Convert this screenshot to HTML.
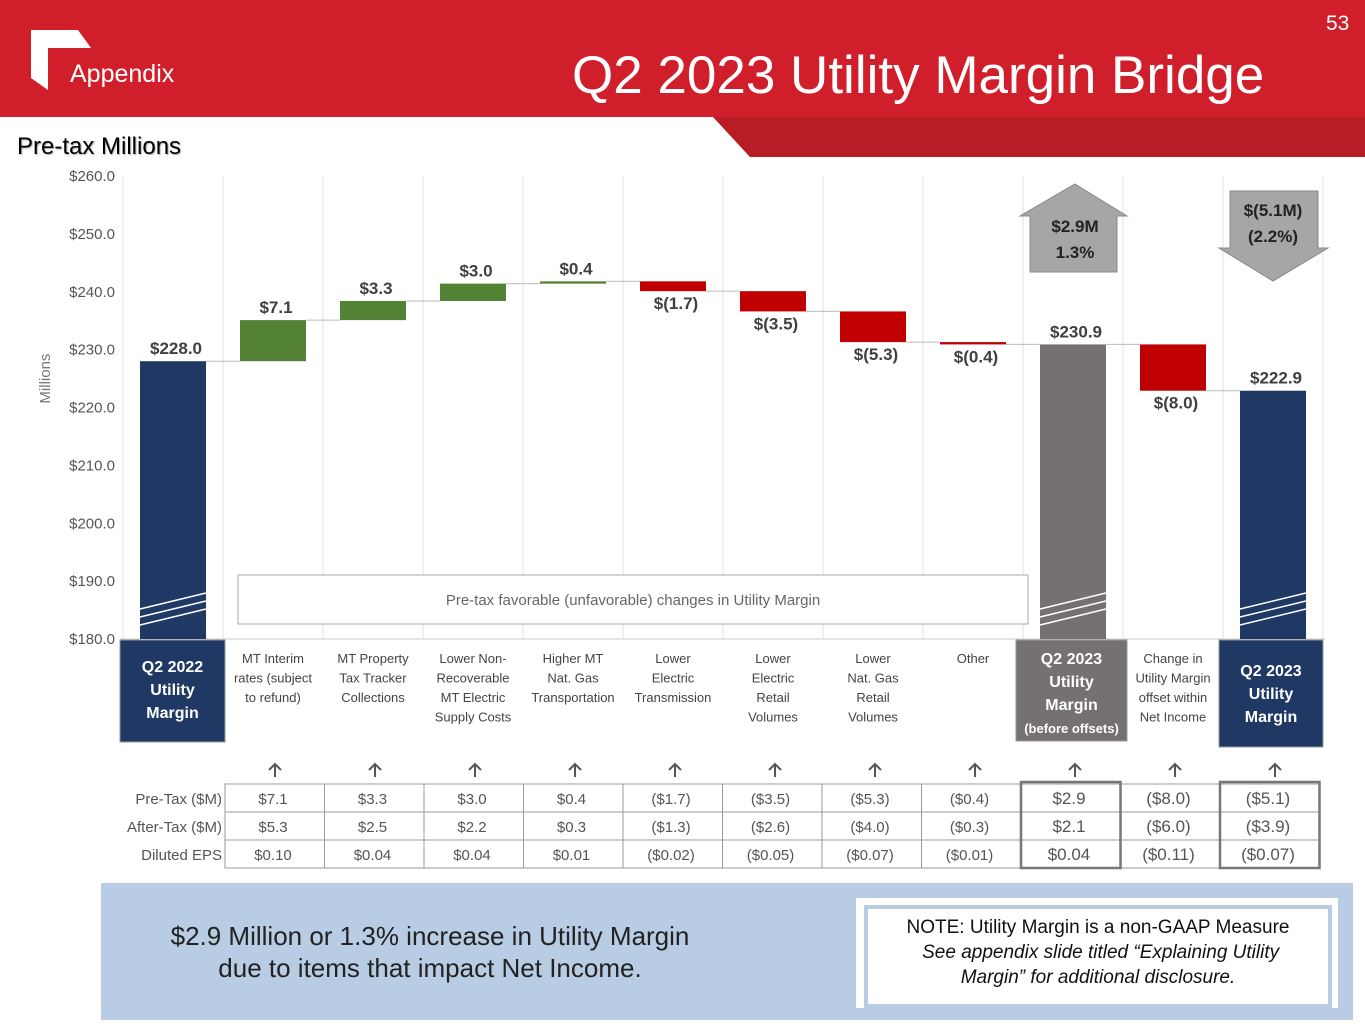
<!DOCTYPE html>
<html><head><meta charset="utf-8"><style>
body{margin:0;width:1365px;height:1024px;overflow:hidden;background:#fff;font-family:"Liberation Sans",sans-serif;position:relative}
.abs{position:absolute}
</style></head><body>
<div class="abs" style="left:0;top:0;width:1365px;height:117px;background:#d01f2a"></div>
<svg class="abs" style="left:0;top:0" width="1365" height="160">
<polygon points="713,117 1365,117 1365,157 750,157" fill="#b81c24"/>
<polygon points="31,30 78,30 91,48 48,48 48,90 31,78" fill="#fff"/>
</svg>
<div class="abs" style="left:70px;top:60px;color:#fff;font-size:25px">Appendix</div>
<div class="abs" style="left:572px;top:45px;color:#fff;font-size:53px">Q2 2023 Utility Margin Bridge</div>
<div class="abs" style="left:1326px;top:12px;color:#fff;font-size:21px">53</div>
<div class="abs" style="left:17px;top:133px;color:#000;font-size:24px;text-shadow:1px 1px 1px #aaa">Pre-tax Millions</div>

<svg id="chart" class="abs" style="left:0;top:160px" width="1365" height="720"></svg>

<div class="abs" style="left:101px;top:883px;width:1252px;height:137px;background:#b8cce4"></div>
<div class="abs" style="left:130px;top:920px;width:600px;text-align:center;font-size:26px;color:#222;line-height:32px">$2.9 Million or 1.3% increase in Utility Margin<br>due to items that impact Net Income.</div>
<div class="abs" style="left:856px;top:898px;width:482px;height:110px;background:#fff"></div>
<div class="abs" style="left:864px;top:905px;width:460px;height:89px;border:4px solid #b8cce4;text-align:center;font-size:19px;color:#111;line-height:25px;padding-top:6px">NOTE: Utility Margin is a non-GAAP Measure<br><i>&nbsp;See appendix slide titled “Explaining Utility<br>Margin” for additional disclosure.</i></div>

<script>
const categories=["Q2 2022 Utility Margin","MT Interim rates (subject to refund)","MT Property Tax Tracker Collections","Lower Non-Recoverable MT Electric Supply Costs","Higher MT Nat. Gas Transportation","Lower Electric Transmission","Lower Electric Retail Volumes","Lower Nat. Gas Retail Volumes","Other","Q2 2023 Utility Margin (before offsets)","Change in Utility Margin offset within Net Income","Q2 2023 Utility Margin"];
const values=[228.0,7.1,3.3,3.0,0.4,-1.7,-3.5,-5.3,-0.4,null,-8.0,null];
const barTypes=["total","delta","delta","delta","delta","delta","delta","delta","delta","subtotal","delta","total"];
const barLabels=["$228.0","$7.1","$3.3","$3.0","$0.4","$(1.7)","$(3.5)","$(5.3)","$(0.4)","$230.9","$(8.0)","$222.9"];
const yTicks=[180,190,200,210,220,230,240,250,260];
const preTax=["$7.1","$3.3","$3.0","$0.4","($1.7)","($3.5)","($5.3)","($0.4)","$2.9","($8.0)","($5.1)"];
const afterTax=["$5.3","$2.5","$2.2","$0.3","($1.3)","($2.6)","($4.0)","($0.3)","$2.1","($6.0)","($3.9)"];
const eps=["$0.10","$0.04","$0.04","$0.01","($0.02)","($0.05)","($0.07)","($0.01)","$0.04","($0.11)","($0.07)"];
const xLabels=[null,["MT Interim","rates (subject","to refund)"],["MT Property","Tax Tracker","Collections"],["Lower Non-","Recoverable","MT Electric","Supply Costs"],["Higher MT","Nat. Gas","Transportation"],["Lower","Electric","Transmission"],["Lower","Electric","Retail","Volumes"],["Lower","Nat. Gas","Retail","Volumes"],["Other"],null,["Change in","Utility Margin","offset within","Net Income"],null];

const svg=document.getElementById('chart');const NS='http://www.w3.org/2000/svg';
const OY=160;
const y=v=>639-OY-(v-180)*(463/80);
const xc=i=>173+i*100;
function mk(t,a,txt){const e=document.createElementNS(NS,t);for(const k in a)e.setAttribute(k,a[k]);if(txt!=null)e.textContent=txt;svg.appendChild(e);return e;}
const F='"Liberation Sans",sans-serif';
for(let i=0;i<=12;i++){const g=mk('line',{x1:123+i*100,x2:123+i*100,y1:y(260),y2:y(180),stroke:'#e2e2e2'});
}
yTicks.forEach(t=>{const e=mk('text',{x:115,y:y(t)+5,'text-anchor':'end','font-size':15,fill:'#555','font-family':F},'$'+t.toFixed(1));
});
const yt=mk('text',{x:50,y:y(225),transform:`rotate(-90 50 ${y(225)})`,'text-anchor':'middle','font-size':15,fill:'#777','font-family':F},'Millions');

mk('line',{x1:120,x2:1325,y1:y(180),y2:y(180),stroke:'#ccc'});
let run=0;
barTypes.forEach((tp,i)=>{let lo,hi,col;
 if(tp==='total'&&i===0){run=values[0];lo=180;hi=run;col='#1f3864';}
 else if(tp==='total'){lo=180;hi=run;col='#1f3864';}
 else if(tp==='subtotal'){lo=180;hi=run;col='#767171';}
 else{const v=values[i];lo=Math.min(run,run+v);hi=Math.max(run,run+v);col=v>=0?'#548235':'#c00000';run+=v;}
 const r=mk('rect',{x:xc(i)-33,y:y(hi),width:66,height:Math.max(1.5,y(lo)-y(hi)),fill:col});
 
 if(tp!=='delta'){for(let k=0;k<3;k++)mk('line',{x1:xc(i)-33,y1:y(180)-14-k*8,x2:xc(i)+33,y2:y(180)-30-k*8,stroke:'#fff','stroke-width':1.5});}
 const neg=tp==='delta'&&values[i]<0;
 const ly=neg?y(lo)+18:y(hi)-7;
 const l=mk('text',{x:xc(i)+3,y:ly,'text-anchor':'middle','font-size':17,'font-weight':'bold',fill:'#404040','font-family':F},barLabels[i]);
 
 if(i<11){mk('line',{x1:xc(i)+33,x2:xc(i+1)-33,y1:y(run),y2:y(run),stroke:'#bbb'});}
});
const ab=mk('rect',{x:238,y:575-OY,width:790,height:49,fill:'#fff',stroke:'#aaa'});

mk('text',{x:633,y:605-OY,'text-anchor':'middle','font-size':15,fill:'#666','font-family':F},'Pre-tax favorable (unfavorable) changes in Utility Margin');
const up=mk('polygon',{points:`1075,${184-OY} 1127,${216-OY} 1117,${216-OY} 1117,${272-OY} 1030,${272-OY} 1030,${216-OY} 1020,${216-OY}`,fill:'#a6a6a6',stroke:'#888'});

mk('text',{x:1075,y:232-OY,'text-anchor':'middle','font-size':17,'font-weight':'bold',fill:'#222','font-family':F},'$2.9M');
mk('text',{x:1075,y:258-OY,'text-anchor':'middle','font-size':17,'font-weight':'bold',fill:'#222','font-family':F},'1.3%');
const dn=mk('polygon',{points:`1230,${191-OY} 1318,${191-OY} 1318,${248-OY} 1328,${248-OY} 1273,${281-OY} 1219,${248-OY} 1230,${248-OY}`,fill:'#a6a6a6',stroke:'#888'});

mk('text',{x:1273,y:216-OY,'text-anchor':'middle','font-size':17,'font-weight':'bold',fill:'#222','font-family':F},'$(5.1M)');
mk('text',{x:1273,y:242-OY,'text-anchor':'middle','font-size':17,'font-weight':'bold',fill:'#222','font-family':F},'(2.2%)');
function box(x,w,yb,h,col,lines){const b=mk('rect',{x:x,y:640-OY,width:w,height:h,fill:col,stroke:'#999'});
 
 lines.forEach((t,k)=>mk('text',{x:x+w/2,y:yb-OY+k*23,'text-anchor':'middle','font-size':k===3?13:16,'font-weight':'bold',fill:'#fff','font-family':F},t));}
box(120,105,672,102,'#1f3864',['Q2 2022','Utility','Margin']);
box(1016,111,664,101,'#767171',['Q2 2023','Utility','Margin','(before offsets)']);
box(1219,104,676,107,'#1f3864',['Q2 2023','Utility','Margin']);
xLabels.forEach((ls,i)=>{if(!ls)return;ls.forEach((t,k)=>{const e=mk('text',{x:xc(i),y:663-OY+k*19.5,'text-anchor':'middle','font-size':13,fill:'#444','font-family':F},t);
 });});
const rows=[preTax,afterTax,eps];const rn=['Pre-Tax ($M)','After-Tax ($M)','Diluted EPS'];
rows.forEach((r,ri)=>{const ty=784+ri*28-OY;
 const h=mk('text',{x:222,y:ty+20,'text-anchor':'end','font-size':15,fill:'#555','font-family':F},rn[ri]);
 
 r.forEach((v,i)=>{const cx=225+i*99.5;mk('rect',{x:cx,y:ty,width:99.5,height:28,fill:'none',stroke:'#999'});
  const t=mk('text',{x:cx+48,y:ty+20,'text-anchor':'middle','font-size':i>=8?17:15,fill:'#555','font-family':F},v);
  });});
[8,10].forEach(i=>mk('rect',{x:225+i*99.5,y:782-OY,width:99.5,height:86,fill:'none',stroke:'#777','stroke-width':2.5}));
for(let i=1;i<12;i++){const a=mk('path',{d:`M${xc(i)+2},${777-OY} L${xc(i)+2},${764-OY} M${xc(i)-4},${770-OY} L${xc(i)+2},${764-OY} L${xc(i)+8},${770-OY}`,stroke:'#555','stroke-width':2,fill:'none'});
 }
</script>
</body></html>
